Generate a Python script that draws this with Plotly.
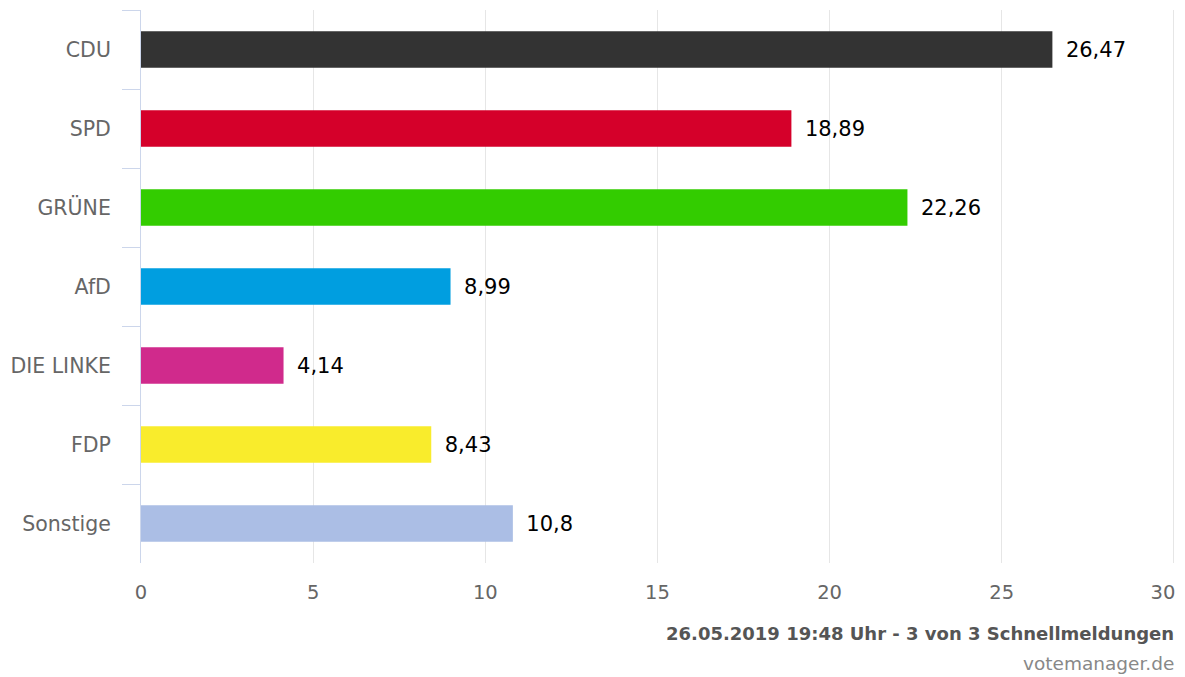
import plotly.graph_objects as go

parties = ["CDU", "SPD", "GRÜNE", "AfD", "DIE LINKE", "FDP", "Sonstige"]
values = [26.47, 18.89, 22.26, 8.99, 4.14, 8.43, 10.8]
colors = ["#333333", "#d5002a", "#33cc00", "#009ee0", "#d02a8c", "#f9ec2c", "#abbee5"]
x_ticks = [0, 5, 10, 15, 20, 25, 30]
x_tick_labels = ["0", "5", "10", "15", "20", "25", "30"]
x_max = 30
footer_main = "26.05.2019 19:48 Uhr - 3 von 3 Schnellmeldungen"
footer_src = "votemanager.de"

labels = ["\u2002" + str(v).replace(".", ",") for v in values]

W, H = 1185, 677
ml, mt = 141, 10
mr = 9
mb = H - 563
pw, ph = W - ml - mr, H - mt - mb
# a hair of extra range so the gridline at the maximum is still drawn
x_range = [0, x_max * 1.002]

fig = go.Figure()
fig.add_trace(go.Bar(
    x=values, y=parties, orientation="h",
    marker=dict(color=colors, line=dict(width=0)),
    width=0.46,
    text=labels, textposition="outside", cliponaxis=False,
    textfont=dict(family="DejaVu Sans", size=21, color="#000000"),
    hoverinfo="skip",
))
# invisible helper so the overlaid axis (carrying the last, left-justified label) is drawn
fig.add_trace(go.Scatter(
    x=x_ticks[-1:], y=parties[:1], xaxis="x2", yaxis="y",
    mode="markers", marker=dict(opacity=0, size=1), hoverinfo="skip", showlegend=False,
))

tickfont = dict(family="DejaVu Sans", size=19.5, color="#666666")

fig.update_layout(
    width=W, height=H,
    margin=dict(l=ml, r=mr, t=mt, b=mb, autoexpand=False),
    paper_bgcolor="white", plot_bgcolor="white",
    showlegend=False,
    font=dict(family="DejaVu Sans", color="#666666"),
    xaxis=dict(
        range=x_range, tickvals=x_ticks[:-1], ticktext=x_tick_labels[:-1],
        showgrid=True, gridcolor="#e6e6e6", gridwidth=1,
        zeroline=False, showline=False, ticks="",
        tickfont=tickfont, ticklabelstandoff=15,
    ),
    xaxis2=dict(
        overlaying="x", anchor="y", side="bottom", range=x_range,
        tickvals=x_ticks[-1:], ticktext=x_tick_labels[-1:],
        showgrid=True, gridcolor="#e6e6e6", gridwidth=1,
        zeroline=False, showline=False, ticks="",
        tickfont=tickfont, ticklabelstandoff=15, ticklabelshift=-11,
    ),
    yaxis=dict(
        categoryorder="array", categoryarray=parties, autorange="reversed",
        showline=True, linecolor="#ccd6eb", linewidth=1,
        ticks="outside", tickson="boundaries", ticklen=18, tickcolor="#ccd6eb", tickwidth=1,
        showgrid=False, zeroline=False,
        tickfont=dict(size=20.5, color="#666666"),
        ticklabelstandoff=25,
    ),
    annotations=[
        dict(text="<b>" + footer_main + "</b>", xref="paper", yref="paper",
             x=(1176 - ml) / pw, y=-(633 - 563) / ph, xanchor="right", yanchor="middle",
             showarrow=False, font=dict(family="DejaVu Sans", size=18, color="#555555")),
        dict(text=footer_src, xref="paper", yref="paper",
             x=(1176 - ml) / pw, y=-(663 - 563) / ph, xanchor="right", yanchor="middle",
             showarrow=False, font=dict(family="DejaVu Sans", size=18.5, color="#888888")),
    ],
)

fig.write_html("out.html", config={"displayModeBar": False},
               post_script="document.body.style.margin='0px';")
